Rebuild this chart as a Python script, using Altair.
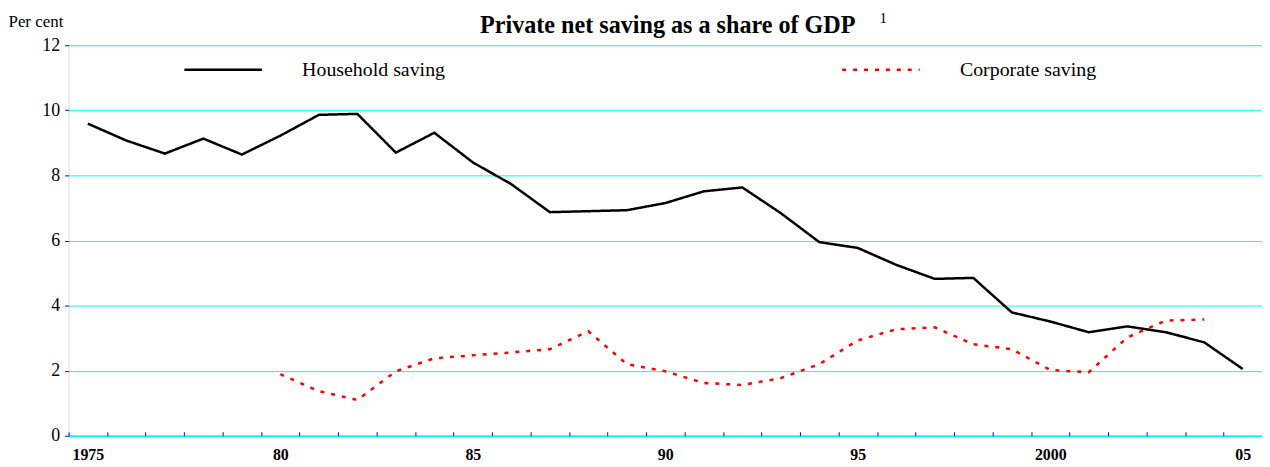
import altair as alt
import pandas as pd

years = list(range(1975, 2006))
household = [9.59, 9.07, 8.67, 9.13, 8.64, 9.22, 9.86, 9.89, 8.70, 9.31,
             8.40, 7.73, 6.87, 6.90, 6.93, 7.15, 7.51, 7.63, 6.84, 5.95,
             5.77, 5.25, 4.82, 4.85, 3.79, 3.51, 3.18, 3.36, 3.18, 2.87, 2.05]
corp_years = list(range(1980, 2005))
corporate = [1.89, 1.37, 1.10, 1.98, 2.38, 2.47, 2.56, 2.66, 3.21, 2.20,
             1.98, 1.62, 1.56, 1.77, 2.20, 2.93, 3.27, 3.33, 2.81, 2.66,
             2.02, 1.95, 3.02, 3.54, 3.57]
series_names = ["Household saving", "Corporate saving"]
y_ticks = [0, 2, 4, 6, 8, 10, 12]
x_label_years = [1975, 1980, 1985, 1990, 1995, 2000, 2005]
x_label_text = ["1975", "80", "85", "90", "95", "2000", "05"]
title_text = ["Private net saving as a share of GDP"]
footnote = ["1"]

rows = [{"year": y, "value": v, "series": series_names[0]} for y, v in zip(years, household)]
rows += [{"year": y, "value": v, "series": series_names[1]} for y, v in zip(corp_years, corporate)]
df = pd.DataFrame(rows)

FONT = "Liberation Serif"
W, H = 1201, 393
half_band = W / len(years) / 2

edges = [y - 0.5 for y in years] + [years[-1] + 0.5]
expr = "''"
for y, t in reversed(list(zip(x_label_years, x_label_text))):
    expr = f"datum.value == {y - 0.5} ? '{t}' : ({expr})"

legend = alt.Legend(
    orient="none", legendX=115, legendY=-16, direction="horizontal", title=None,
    symbolType="stroke", symbolSize=6084, symbolStrokeWidth=2.5,
    labelFont=FONT, labelFontSize=20, labelColor="black", labelOffset=39,
    columnPadding=394, padding=0, labelLimit=400,
)

lines = alt.Chart(df).mark_line(strokeWidth=2.5).encode(
    x=alt.X("year:Q", scale=alt.Scale(domain=[years[0] - 0.5, years[-1] + 0.5], nice=False, zero=False),
            axis=alt.Axis(values=edges, labelExpr=expr, labelOffset=half_band, tickSize=4,
                          tickColor="#0000FF", tickWidth=1, domain=False, grid=False, offset=-4,
                          labelPadding=11, labelFont=FONT, labelFontSize=16, labelFontWeight="bold",
                          labelColor="black", labelOverlap=False, labelBound=False, labelFlush=False,
                          labelAngle=0, title=None)),
    y=alt.Y("value:Q", scale=alt.Scale(domain=[0, 12], nice=False),
            axis=alt.Axis(values=y_ticks, grid=True, gridColor="#00FFFF",
                          gridWidth={"condition": {"test": "datum.value == 0", "value": 2}, "value": 1},
                          domain=False, tickColor="#0000FF", tickSize=4, labelPadding=5,
                          labelFont=FONT, labelFontSize=18, labelColor="black",
                          title="Per cent", titleAngle=0, titleX=-61, titleY=-19, titleAlign="left",
                          titleBaseline="alphabetic", titleFont=FONT, titleFontSize=17,
                          titleFontWeight="normal", titleColor="black")),
    color=alt.Color("series:N", scale=alt.Scale(domain=series_names, range=["black", "red"]), legend=legend),
    strokeDash=alt.StrokeDash("series:N", scale=alt.Scale(domain=series_names, range=[[1, 0], [4, 7]]), legend=legend),
    detail="series:N",
)

title = alt.Chart(pd.DataFrame({"t": title_text})).mark_text(
    font=FONT, fontSize=24.3, fontWeight="bold", align="center", baseline="alphabetic", color="black"
).encode(x=alt.value(603), y=alt.value(-12), text="t:N")

note = alt.Chart(pd.DataFrame({"note": footnote})).mark_text(
    font=FONT, fontSize=15, align="left", baseline="alphabetic", color="black"
).encode(x=alt.value(816), y=alt.value(-22), text="note:N")

chart = alt.layer(lines, title, note).properties(
    width=W, height=H,
    padding={"left": 61, "top": 36, "right": 0, "bottom": 28},
    autosize=alt.AutoSizeParams(type="none"),
).configure_view(stroke=None).configure(background="white")

chart.save("out.html", embed_options={"renderer": "svg", "actions": False})
